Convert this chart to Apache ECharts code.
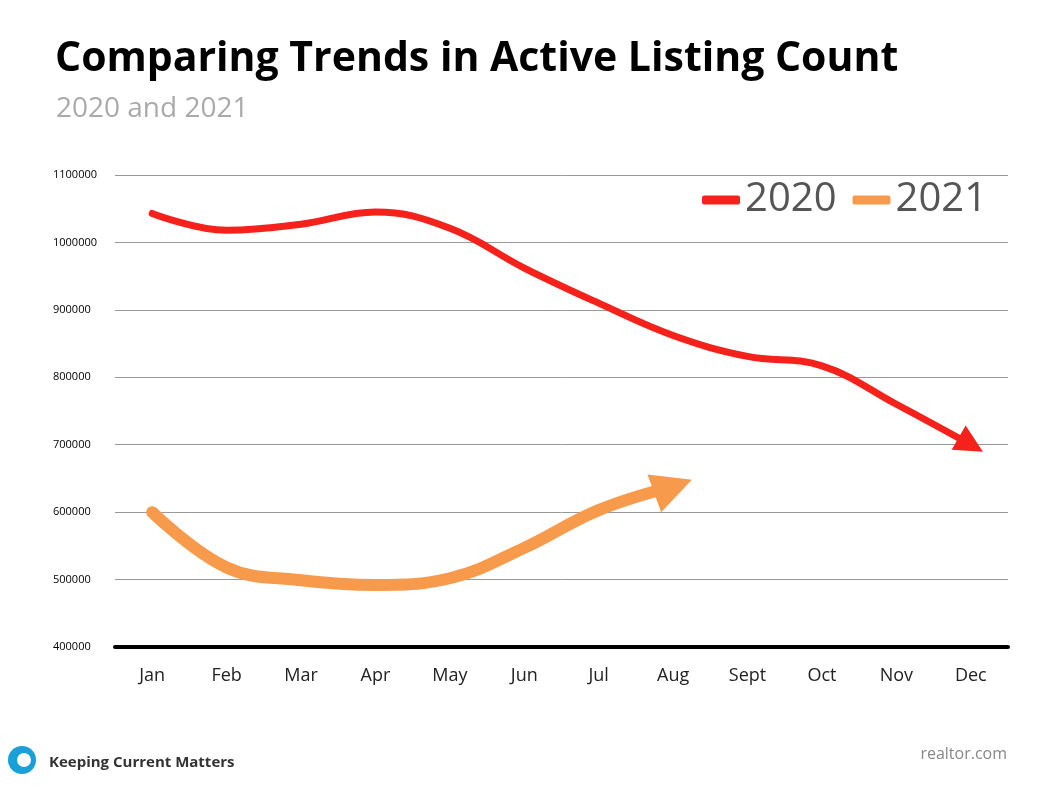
<!DOCTYPE html>
<html>
<head>
<meta charset="utf-8">
<script src="https://cdn.jsdelivr.net/npm/echarts@6/dist/echarts.min.js"></script>
<style>
  html, body { margin: 0; padding: 0; background: #fff; }
  #main { width: 1052px; height: 790px; }
</style>
</head>
<body>
<div id="main"></div>
<script>
// chart data
var months = ['Jan', 'Feb', 'Mar', 'Apr', 'May', 'Jun', 'Jul', 'Aug', 'Sept', 'Oct', 'Nov', 'Dec'];
var listings2020 = [1043000, 1018000, 1027000, 1045000, 1021000, 962000, 910000, 862000, 831000, 817000, 760000, 700000];
var listings2021 = [600000, 518000, 499000, 492000, 502000, 547000, 603000, 638000];

var myChart = echarts.init(document.getElementById('main'));

// last point of each series gets an arrow head
function withArrow(values, size, rotate) {
  return values.map(function (v, i) {
    if (i === values.length - 1) {
      return { value: v, symbol: 'triangle', symbolSize: size, symbolRotate: rotate };
    }
    return { value: v, symbol: 'none' };
  });
}

var option = {
  title: [
    {
      text: 'Comparing Trends in Active Listing Count',
      left: 50, top: 34,
      textStyle: { fontFamily: 'Open Sans', fontWeight: 'bold', fontSize: 41, color: '#000' }
    },
    {
      text: '2020 and 2021',
      left: 51, top: 90,
      textStyle: { fontFamily: 'Open Sans', fontWeight: 'normal', fontSize: 28, color: '#aaa' }
    },
    {
      text: 'Keeping Current Matters',
      left: 44, top: 750,
      textStyle: { fontFamily: 'Open Sans', fontWeight: 'bold', fontSize: 15, color: '#333' }
    },
    {
      text: 'realtor.com',
      right: 40, top: 741,
      textStyle: { fontFamily: 'Open Sans', fontWeight: 'normal', fontSize: 16, color: '#888' }
    }
  ],
  graphic: [
    { type: 'circle', shape: { cx: 22, cy: 760, r: 14 }, style: { fill: '#1aa0d8' } },
    { type: 'circle', shape: { cx: 24, cy: 760, r: 7 }, style: { fill: '#fff' } }
  ],
  legend: {
    right: 60, top: 175,
    itemWidth: 38, itemGap: 16,
    textStyle: { fontFamily: 'Open Sans', fontSize: 40, color: '#555' },
    data: [
      { name: '2020', icon: 'roundRect', itemStyle: { color: '#f5221b' } },
      { name: '2021', icon: 'roundRect', itemStyle: { color: '#f79a4b' } }
    ],
    itemHeight: 9
  },
  grid: { left: 115, right: 44, top: 175, bottom: 143 },
  xAxis: {
    type: 'category',
    data: months,
    axisLine: { lineStyle: { color: '#000', width: 4 } },
    axisTick: { show: false },
    axisLabel: { fontFamily: 'Open Sans', fontSize: 18, color: '#222', margin: 20 }
  },
  yAxis: {
    type: 'value',
    min: 400000, max: 1100000, interval: 100000,
    axisLine: { show: false },
    axisTick: { show: false },
    axisLabel: {
      fontFamily: 'Open Sans', fontSize: 11, color: '#000', margin: 62, align: 'left',
      formatter: function (v) { return String(v); }
    },
    splitLine: { lineStyle: { color: '#999', width: 1 } }
  },
  series: [
    {
      name: '2020',
      type: 'line',
      smooth: 0.4,
      color: '#f5221b',
      lineStyle: { width: 7, color: '#f5221b', cap: 'round' },
      itemStyle: { color: '#f5221b' },
      data: withArrow(listings2020, 28, -120)
    },
    {
      name: '2021',
      type: 'line',
      smooth: 0.4,
      color: '#f79a4b',
      lineStyle: { width: 12, color: '#f79a4b', cap: 'round' },
      itemStyle: { color: '#f79a4b' },
      data: withArrow(listings2021, 40, -70)
    }
  ]
};

myChart.setOption(option);
</script>
</body>
</html>
